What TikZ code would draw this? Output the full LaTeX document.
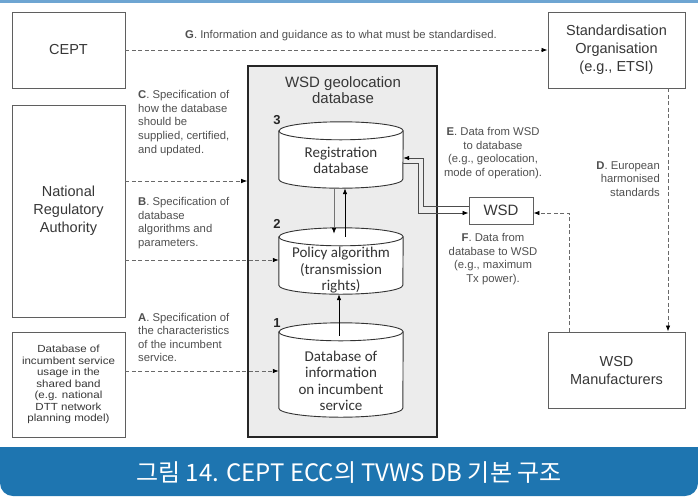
\documentclass[tikz,border=0pt]{standalone}
\usepackage{fontspec}
\setmainfont{Liberation Sans}
\newfontfamily\cylfont{Carlito}
\newfontfamily\krfont{Noto Sans CJK KR}
\newfontfamily\widefont[FakeStretch=1.12]{Liberation Sans}
\usetikzlibrary{arrows.meta}
\definecolor{txt}{RGB}{55,55,55}
\definecolor{lbl}{RGB}{80,80,80}
\definecolor{boxc}{RGB}{95,95,95}
\definecolor{dashc}{RGB}{105,105,105}
\definecolor{bigfill}{RGB}{236,236,236}
\definecolor{banner}{RGB}{30,117,176}
\definecolor{topline}{RGB}{110,165,210}
\begin{document}
\begin{tikzpicture}[x=1pt,y=-1pt,
  box/.style={draw=boxc, line width=0.9pt, fill=white, text=txt, align=center, inner sep=0pt,
    font=\fontsize{14.5}{18}\selectfont},
  body/.style={inner sep=0pt, minimum width=124pt},
  cyl/.style={draw=black!80, line width=0.9pt, fill=white},
  cyltext/.style={text=black!80, align=center, inner sep=0pt, font=\cylfont\fontsize{15}{16.5}\selectfont},
  lab/.style={text=lbl, inner sep=0pt, font=\fontsize{11.3}{13.6}\selectfont},
  num/.style={text=black!85, inner sep=0pt, font=\bfseries\fontsize{13}{13}\selectfont},
  tip/.style={-{Latex[length=6pt,width=4.5pt,black]}},
  darr/.style={draw=dashc, line width=0.8pt, dash pattern=on 4pt off 2.5pt, tip},
  sarr/.style={draw=black!70, line width=0.7pt, tip},
]
\useasboundingbox (0,0) rectangle (698,496);
\fill[white] (0,0) rectangle (698,496);
\fill[topline] (0,0) rectangle (698,2.5);

% banner
\fill[banner, rounded corners=13pt] (0,447) rectangle (698,496);
\fill[banner] (0,447) rectangle (698,472);
\node[text=white, inner sep=0pt, font=\krfont\fontsize{24}{24}\selectfont] (cap) at (349,473) {그림 14. CEPT ECC의 TVWS DB 기본 구조};

% outer boxes
\node[box, minimum width=113pt, minimum height=76pt] (cept) at (68.5,50) {CEPT};
\node[box, minimum width=113pt, minimum height=212pt] (nra) at (68.5,211) {National\\Regulatory\\Authority};
\node[box, minimum width=113pt, minimum height=105pt, font=\widefont\fontsize{10.3}{11.5}\selectfont] (incb) at (68.5,384.5)
  {Database of\\incumbent service\\usage in the\\shared band\\(e.g. national\\DTT network\\planning model)};
\node[box, minimum width=137pt, minimum height=76pt] (std) at (616.5,50) {Standardisation\\Organisation\\(e.g., ETSI)};
\node[box, minimum width=137pt, minimum height=76pt] (man) at (616.5,370) {WSD\\Manufacturers};
\node[box, minimum width=64pt, minimum height=27pt, font=\fontsize{15}{18}\selectfont] (wsd) at (501,210.5) {WSD};

% big database box
\node[draw=black!85, line width=1.6pt, fill=bigfill, minimum width=189pt, minimum height=371pt, inner sep=0pt] (db) at (342.5,251.5) {};
\node[text=txt, align=center, inner sep=0pt, font=\fontsize{15}{16.5}\selectfont] (dbt) at (343,90) {WSD geolocation\\database};

% cylinder bodies (between ellipse centres)
\node[body, minimum height=48pt] (reg) at (341,155) {};
\node[body, minimum height=48pt] (pol) at (341,261) {};
\node[body, minimum height=76pt] (ic) at (341,370) {};
\foreach \c in {reg,pol,ic}{
  \draw[cyl] (\c.north west) -- (\c.south west) arc[start angle=180, end angle=0, x radius=62, y radius=9]
     -- (\c.north east) arc[start angle=0, end angle=-180, x radius=62, y radius=9] -- cycle;
  \draw[cyl, fill=none] (\c.north west) arc[start angle=180, end angle=0, x radius=62, y radius=9];
}
\node[cyltext] (regt) at (341,160.5) {Registration\\database};
\node[cyltext] (polt) at (341,270.5) {Policy algorithm\\(transmission\\rights)};
\node[cyltext] (ict) at (341,381) {Database of\\information\\on incumbent\\service};
\node[num] (n3) at (277,120) {3};
\node[num] (n2) at (277,224) {2};
\node[num] (n1) at (277,323) {1};

% arrows between cylinders
\draw[sarr, draw=black!55] ([xshift=-7pt,yshift=-9pt]reg.south) -- ([xshift=-7pt,yshift=3pt]pol.north);
\draw[sarr, draw=black] ([xshift=4pt]pol.north) -- ([xshift=4pt,yshift=-9pt]reg.south);
\draw[sarr, draw=black] ([xshift=-2pt,yshift=-4pt]ic.north) -- ([xshift=-2pt,yshift=-9pt]pol.south);

% E and F
\draw[sarr] (wsd.west |- 0,206) -| (423,158) -- (reg.east |- 0,158);
\draw[sarr] (reg.east |- 0,163) -| (418,213) -- (wsd.west |- 0,213);

% dashed connectors
\draw[darr] (cept.east) -- (std.west);
\draw[darr] (nra.east |- 0,181) -- (db.west |- 0,181);
\draw[darr] (nra.east |- 0,260) -- (pol.west |- 0,260);
\draw[darr] (incb.east |- 0,371) -- (ic.west |- 0,371);
\draw[darr] (668,0 |- std.south) -- (668,0 |- man.north);
\draw[darr] (569,0 |- man.north) |- (wsd.east |- 0,213);

% labels
\node[lab, anchor=center] (lg) at (341,36) {\textbf{G}. Information and guidance as to what must be standardised.};
\node[lab, anchor=west, align=left] (lc) at (138,123) {\textbf{C}. Specification of\\how the database\\should be\\supplied, certified,\\and updated.};
\node[lab, anchor=west, align=left] (lb) at (138,223) {\textbf{B}. Specification of\\database\\algorithms and\\parameters.};
\node[lab, anchor=west, align=left] (la) at (138,337.5) {\textbf{A}. Specification of\\the characteristics\\of the incumbent\\service.};
\node[lab, anchor=east, align=right] (ld) at (660,179) {\textbf{D}. European\\harmonised\\standards};
\node[lab, align=center] (le) at (493,153) {\textbf{E}. Data from WSD\\to database\\(e.g., geolocation,\\mode of operation).};
\node[lab, align=center] (lf) at (493,259) {\textbf{F}. Data from\\database to WSD\\(e.g., maximum\\Tx power).};
\end{tikzpicture}
\end{document}
